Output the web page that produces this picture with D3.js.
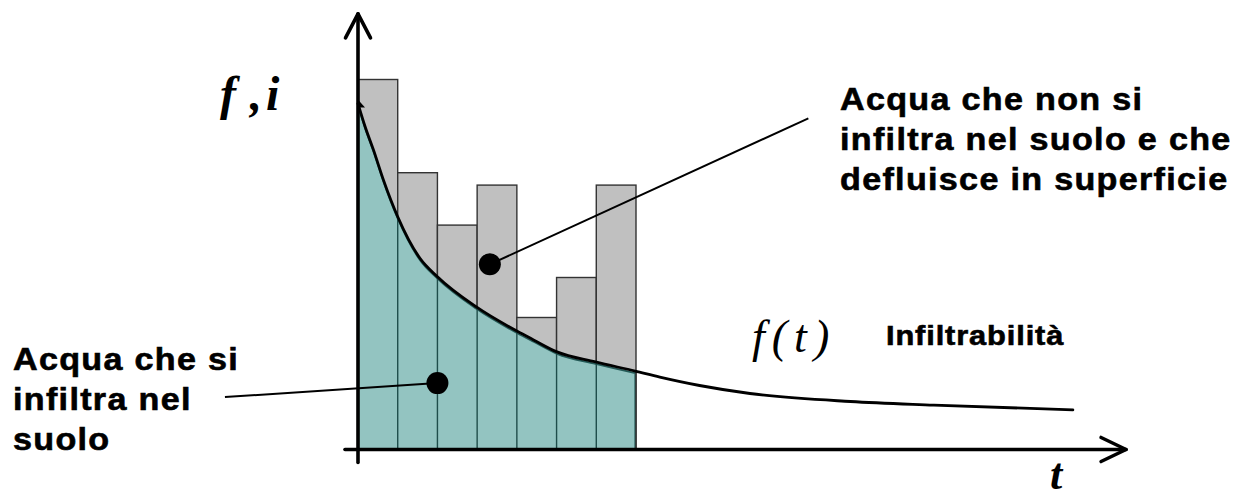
<!DOCTYPE html>
<html>
<head>
<meta charset="utf-8">
<script src="https://cdn.jsdelivr.net/npm/d3@7"></script>
<style>
  html, body { margin: 0; padding: 0; background: #fff; }
  svg { display: block; }
  text { font-variant-ligatures: none; }
</style>
</head>
<body>
<svg id="chart" width="1244" height="502"></svg>
<script>
// Rainfall intensity per time step (hyetograph), one bar per interval
const intervals = [1, 2, 3, 4, 5, 6, 7];
const rainfall = [92.5, 69.2, 56.1, 66.1, 33.0, 43.0, 66.1];

// Infiltration capacity curve f(t): time and rate samples
const curveT = [0, 0.18, 0.39, 0.64, 1.0, 1.56, 2.0, 2.97, 4.0, 4.42, 5.01, 5.98, 6.98, 7.6, 8.6, 9.87, 12.4, 14.5, 18.0];
const curveF = [86.5, 80.7, 74.9, 67.4, 58.2, 47.8, 43.2, 35.7, 29.6, 27.4, 24.4, 21.9, 19.6, 18.1, 16.0, 14.0, 12.0, 11.1, 9.9];

// Text
const yLabelParts = ["f", ",", "i"];
const xLabel = "t";
const curveLabel = "f(t)";
const curveName = "Infiltrabilità";
const runoffLines = ["Acqua che non si", "infiltra nel suolo e che", "defluisce in superficie"];
const infilLines = ["Acqua che si", "infiltra nel", "suolo"];

const svg = d3.select("#chart");
const x = d3.scaleLinear().domain([0, 7]).range([358, 636]);
const y = d3.scaleLinear().domain([0, 100]).range([449.5, 49.5]);
const xMax = 19.34, yMax = 108.9;
const nSteps = intervals.length;

const pts = curveT.map((t, i) => ({ t, f: curveF[i] }));
const fAt = t => {
  for (let i = 1; i < pts.length; i++) {
    if (t <= pts[i].t) {
      const a = pts[i - 1], b = pts[i];
      return a.f + (b.f - a.f) * (t - a.t) / (b.t - a.t);
    }
  }
  return pts[pts.length - 1].f;
};

// Rainfall bars
svg.append("g").selectAll("rect").data(intervals).join("rect")
  .attr("x", d => x(d - 1))
  .attr("width", d => x(d) - x(d - 1))
  .attr("y", (d, i) => y(rainfall[i]))
  .attr("height", (d, i) => y(0) - y(rainfall[i]))
  .attr("fill", "#c0c0c0")
  .attr("stroke", "#333")
  .attr("stroke-width", 1.4);

// Infiltrated volume under the curve during the event
const inside = pts.filter(p => p.t <= nSteps);
const area = d3.area().x(d => x(d.t)).y0(y(0)).y1(d => y(d.f) + 2).curve(d3.curveMonotoneX);
svg.append("path").datum(inside)
  .attr("d", area)
  .attr("fill", "#93c4c1")
  .attr("stroke", "#245a57")
  .attr("stroke-width", 1.6);

// Interval separators inside the infiltrated area
svg.append("g").selectAll("line").data(intervals).join("line")
  .attr("x1", d => x(d)).attr("x2", d => x(d))
  .attr("y1", y(0)).attr("y2", d => y(fAt(d)))
  .attr("stroke", d => d === nSteps ? "#333" : "#1f4d4b")
  .attr("stroke-width", 1.4);

// Infiltration capacity curve
const line = d3.line().x(d => x(d.t)).y(d => y(d.f)).curve(d3.curveMonotoneX);
svg.append("path").datum(pts)
  .attr("d", line)
  .attr("fill", "none")
  .attr("stroke", "#000")
  .attr("stroke-width", 2.8)
  .attr("stroke-linecap", "round");

// small arrow tip at curve start
const sx = x(curveT[0]), sy = y(curveF[0]);
svg.append("path")
  .attr("d", `M${sx - 1},${sy - 5} L${sx + 7},${sy + 4} L${sx - 1},${sy + 4} Z`)
  .attr("fill", "#000");

// Axes with open arrowheads
const axisG = svg.append("g").attr("stroke", "#000").attr("stroke-width", 3.6)
  .attr("fill", "none").attr("stroke-linecap", "round").attr("stroke-linejoin", "round");
axisG.append("line").attr("x1", x(0)).attr("x2", x(0)).attr("y1", y(0) + 13).attr("y2", y(yMax));
axisG.append("path").attr("d", `M${x(0) - 12.5},${y(yMax) + 24} L${x(0)},${y(yMax)} L${x(0) + 12.5},${y(yMax) + 24}`);
axisG.append("line").attr("x1", x(0) - 13).attr("x2", x(xMax)).attr("y1", y(0)).attr("y2", y(0));
axisG.append("path").attr("d", `M${x(xMax) - 25},${y(0) - 12} L${x(xMax)},${y(0)} L${x(xMax) - 25},${y(0) + 12}`);

// Callout leaders and dots
const callouts = [
  { dot: [3.32, 46.3], end: [11.34, 82.8] },
  { dot: [2.0, 16.6], end: [-3.35, 13.1] }
];
callouts.forEach(c => {
  svg.append("line")
    .attr("x1", x(c.dot[0])).attr("y1", y(c.dot[1]))
    .attr("x2", x(c.end[0])).attr("y2", y(c.end[1]))
    .attr("stroke", "#000").attr("stroke-width", 2);
  svg.append("circle")
    .attr("cx", x(c.dot[0])).attr("cy", y(c.dot[1])).attr("r", 11)
    .attr("fill", "#000");
});

// Math labels
const serif = "'Liberation Serif', 'Times New Roman', serif";
const yl = svg.append("text").attr("y", 110)
  .attr("font-family", serif).attr("font-style", "italic").attr("font-weight", "bold")
  .attr("font-size", 48);
yl.selectAll("tspan").data(yLabelParts).join("tspan")
  .attr("x", (d, i) => [220, 250, 266][i])
  .text(d => d);
svg.append("text").attr("x", 1050).attr("y", 489)
  .attr("font-family", serif).attr("font-style", "italic").attr("font-weight", "bold")
  .attr("font-size", 44)
  .text(xLabel);
svg.append("text").attr("x", 752).attr("y", 352)
  .attr("font-family", serif).attr("font-style", "italic").attr("font-size", 46)
  .attr("letter-spacing", 7).text(curveLabel);

// Descriptive labels (slightly widened bold sans)
const sans = "'Liberation Sans', Arial, sans-serif";
const boldText = (sel, size, spacing) => sel
  .attr("font-family", sans).attr("font-weight", "bold").attr("font-size", size)
  .attr("letter-spacing", spacing)
  .attr("stroke", "#000").attr("stroke-width", 0.6);

boldText(svg.append("text").attr("transform", "translate(886,345) scale(1.1,1)"), 28, 0.8)
  .text(curveName);

boldText(svg.append("g").selectAll("text").data(runoffLines).join("text")
  .attr("transform", (d, i) => `translate(840,${110 + i * 40}) scale(1.1,1)`), 31, 1.2)
  .text(d => d);

boldText(svg.append("g").selectAll("text").data(infilLines).join("text")
  .attr("transform", (d, i) => `translate(13,${370 + i * 40}) scale(1.1,1)`), 31, 1.2)
  .text(d => d);
</script>
</body>
</html>
